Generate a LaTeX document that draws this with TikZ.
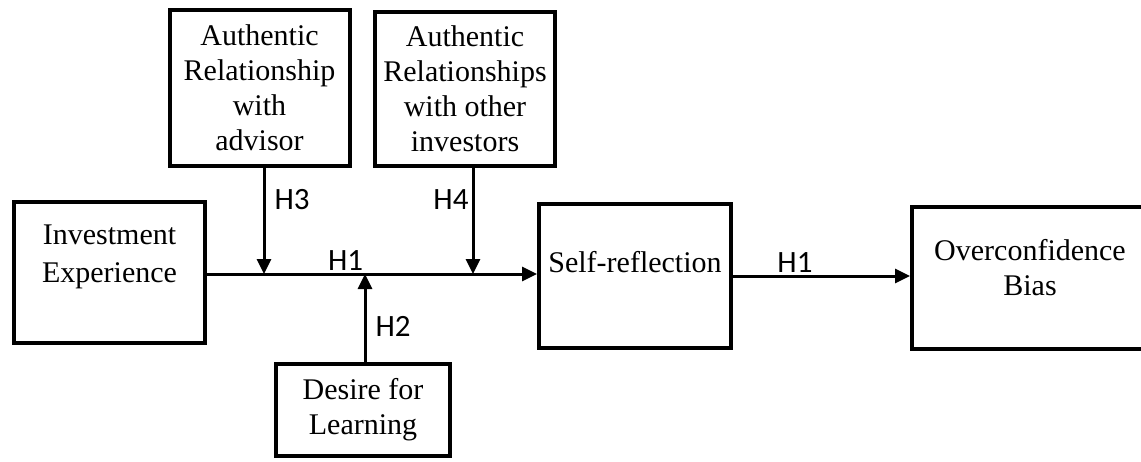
\documentclass[tikz,border=0pt]{standalone}
\usepackage{fontspec}
\setmainfont{Liberation Serif}
\newfontfamily\hypfont{Carlito}
\usetikzlibrary{arrows.meta,positioning}
\tikzset{
  box/.style={draw, line width=4pt, inner sep=0pt, align=center, font=\fontsize{30}{35}\selectfont},
  boxtext/.style={align=center, font=\fontsize{30}{38}\selectfont},
  hyp/.style={font=\hypfont\fontsize{31}{36}\selectfont, inner sep=2pt},
  link/.style={line width=3pt, -{Triangle[length=15pt,width=14pt]}}
}
\begin{document}
\begin{tikzpicture}[x=1pt,y=-1pt]
\useasboundingbox (0,0) rectangle (1141,461);

% boxes
\node[box, minimum width=191pt, minimum height=141pt] (inv) at (109.5,272.5) {};
\node[boxtext] (invtxt) at ([yshift=-57pt]inv.north) {Investment\\Experience};
\node[box, minimum width=180pt, minimum height=156pt] (ara) at (259.5,88) {Authentic\\Relationship\\with\\advisor};
\node[box, minimum width=180pt, minimum height=154pt] (aro) at (465,89) {Authentic\\Relationships\\with other\\investors};
\node[box, minimum width=192pt, minimum height=144pt] (self) at (635,276) {};
\node[boxtext] (selftxt) at ([yshift=-60pt]self.north) {Self-reflection};
\node[box, minimum width=236pt, minimum height=142pt] (over) at (1030,278) {};
\node[boxtext, font=\fontsize{30}{35}\selectfont] (overtxt) at ([yshift=-63pt]over.north) {Overconfidence\\Bias};
\node[box, minimum width=174pt, minimum height=92pt] (des) at (363,410) {Desire for\\Learning};

% points on the main path
\coordinate (m3) at (264,274);
\coordinate (m2) at (365,274);
\coordinate (m4) at (473,274);

\draw[link] (inv.east |- m2) -- node[hyp, above, pos=0.42] {H1} (self.west |- m2);
\draw[link] (self.east) -- node[hyp, above, pos=0.35] {H1} (over.west |- self.east);

\draw[link] (ara.south -| m3) -- node[hyp, right=7pt, pos=0.3] {H3} (m3);
\draw[link] (aro.south -| m4) -- node[hyp, left=1pt, pos=0.3] {H4} (m4);
\draw[link] (des.north -| m2) -- node[hyp, right=7pt, pos=0.4] {H2} (m2);
\end{tikzpicture}
\end{document}
